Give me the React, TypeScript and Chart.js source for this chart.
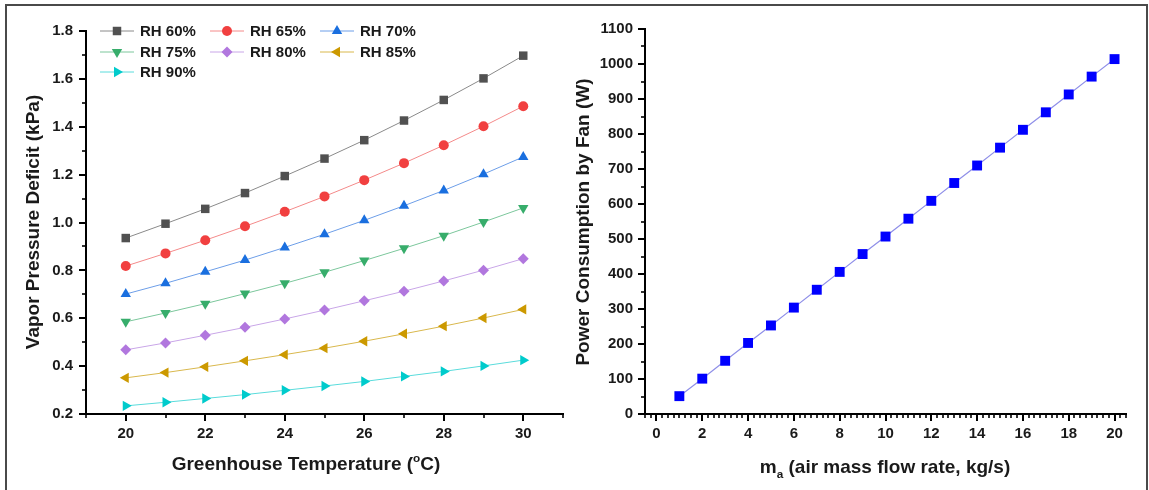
import React, { useEffect, useRef } from 'react';
import { Chart, registerables } from 'chart.js';
import { drawPoint } from 'chart.js/helpers';

Chart.register(...registerables);

// ---------------- data ----------------
const temperatures = [20, 21, 22, 23, 24, 25, 26, 27, 28, 29, 30];
const rh60 = [0.935, 0.995, 1.057, 1.123, 1.194, 1.267, 1.344, 1.426, 1.512, 1.602, 1.697];
const rh65 = [0.818, 0.871, 0.926, 0.984, 1.045, 1.109, 1.177, 1.248, 1.323, 1.402, 1.486];
const rh70 = [0.701, 0.746, 0.794, 0.843, 0.896, 0.951, 1.009, 1.07, 1.134, 1.202, 1.274];
const rh75 = [0.585, 0.622, 0.661, 0.703, 0.746, 0.792, 0.841, 0.892, 0.945, 1.002, 1.061];
const rh80 = [0.468, 0.497, 0.529, 0.562, 0.597, 0.634, 0.673, 0.713, 0.756, 0.801, 0.849];
const rh85 = [0.351, 0.373, 0.397, 0.422, 0.448, 0.475, 0.504, 0.535, 0.567, 0.601, 0.637];
const rh90 = [0.234, 0.249, 0.265, 0.281, 0.299, 0.317, 0.336, 0.357, 0.378, 0.401, 0.425];

const seriesLabels = ['RH 60%', 'RH 65%', 'RH 70%', 'RH 75%', 'RH 80%', 'RH 85%', 'RH 90%'];
const seriesValues = [rh60, rh65, rh70, rh75, rh80, rh85, rh90];

const flowRates = [1, 2, 3, 4, 5, 6, 7, 8, 9, 10, 11, 12, 13, 14, 15, 16, 17, 18, 19, 20];
const fanPower = [51, 101, 152, 203, 253, 304, 355, 406, 457, 507, 558, 609, 660, 710, 761, 812, 862, 913, 964, 1014];

// tick labels
const leftXTicks = [20, 22, 24, 26, 28, 30];
const leftYTicks = [0.2, 0.4, 0.6, 0.8, 1.0, 1.2, 1.4, 1.6, 1.8];
const leftXMinor = [19, 21, 23, 25, 27, 29, 31];
const leftYMinor = [0.3, 0.5, 0.7, 0.9, 1.1, 1.3, 1.5, 1.7];
const rightXTicks = [0, 2, 4, 6, 8, 10, 12, 14, 16, 18, 20];
const rightYTicks = [0, 100, 200, 300, 400, 500, 600, 700, 800, 900, 1000, 1100];
const rightYMinor = [50, 150, 250, 350, 450, 550, 650, 750, 850, 950, 1050];
const rightXMinor: number[] = [];
for (let v = -0.5; v <= 20.5001; v += 0.25) {
  if (Math.abs(v / 2 - Math.round(v / 2)) > 1e-6) rightXMinor.push(v);
}

// ---------------- styles ----------------
const FONT = '"Liberation Sans", Arial, Helvetica, sans-serif';
const TEXT = '#1a1a1a';
const markerColors = ['#515151', '#F14040', '#1A6FDF', '#37AD6B', '#B177DE', '#CC9900', '#00CBCC'];
const lineColors = ['#8a8a8a', '#f48a8a', '#6d9ee8', '#7cc79c', '#c9a6e8', '#d9b84d', '#5adcdc'];
const pointStyles = ['rect', 'circle', 'triangle', 'triangle', 'rectRot', 'triangle', 'triangle'];
const pointRotations = [0, 0, 0, 180, 0, -90, 90];
const pointRadii = [6, 5, 6, 6, 5.5, 6, 6];

const H = 490;

type Part = { t: string; scale?: number; dy?: number };

function drawRich(ctx: CanvasRenderingContext2D, parts: Part[], size: number) {
  // draws centered at (0,0)
  let total = 0;
  const widths = parts.map((p) => {
    ctx.font = `bold ${size * (p.scale || 1)}px ${FONT}`;
    const w = ctx.measureText(p.t).width;
    total += w;
    return w;
  });
  let x = -total / 2;
  ctx.textBaseline = 'alphabetic';
  ctx.textAlign = 'left';
  parts.forEach((p, i) => {
    ctx.font = `bold ${size * (p.scale || 1)}px ${FONT}`;
    ctx.fillText(p.t, x, size * 0.36 + (p.dy || 0) * size);
    x += widths[i];
  });
}

function makeDecorPlugin(cfg: {
  xMajor: number[];
  xMinor: number[];
  yMajor: number[];
  yMinor: number[];
  xTitle: Part[];
  xTitlePos: [number, number];
  yTitle: Part[];
  yTitlePos: [number, number];
  legend?: boolean;
}) {
  return {
    id: 'decor',
    afterDraw(chart: any) {
      const ctx: CanvasRenderingContext2D = chart.ctx;
      const { left, bottom } = chart.chartArea;
      const xs = chart.scales.x;
      const ys = chart.scales.y;
      ctx.save();
      ctx.strokeStyle = '#000';
      const xt = (v: number, len: number, w: number) => {
        const p = Math.round(xs.getPixelForValue(v));
        ctx.lineWidth = w;
        ctx.beginPath();
        ctx.moveTo(p, bottom);
        ctx.lineTo(p, bottom + 1 + len);
        ctx.stroke();
      };
      const yt = (v: number, len: number, w: number) => {
        const p = Math.round(ys.getPixelForValue(v));
        ctx.lineWidth = w;
        ctx.beginPath();
        ctx.moveTo(left, p);
        ctx.lineTo(left - 1 - len, p);
        ctx.stroke();
      };
      cfg.xMajor.forEach((v) => xt(v, 6, 2));
      cfg.xMinor.forEach((v) => xt(v, 3, 1.6));
      cfg.yMajor.forEach((v) => yt(v, 6, 2));
      cfg.yMinor.forEach((v) => yt(v, 3, 1.6));

      // axis titles
      ctx.fillStyle = TEXT;
      ctx.save();
      ctx.translate(cfg.xTitlePos[0], cfg.xTitlePos[1]);
      drawRich(ctx, cfg.xTitle, 19);
      ctx.restore();
      ctx.save();
      ctx.translate(cfg.yTitlePos[0], cfg.yTitlePos[1]);
      ctx.rotate(-Math.PI / 2);
      drawRich(ctx, cfg.yTitle, 19);
      ctx.restore();

      if (cfg.legend) {
        const colStart = [100, 210, 320];
        const rowY = [31, 52, 72];
        chart.data.datasets.forEach((ds: any, i: number) => {
          const c = i % 3;
          const r = Math.floor(i / 3);
          const x0 = colStart[c];
          const y0 = rowY[r];
          ctx.strokeStyle = ds.borderColor;
          ctx.lineWidth = 1;
          ctx.beginPath();
          ctx.moveTo(x0, y0);
          ctx.lineTo(x0 + 34, y0);
          ctx.stroke();
          ctx.fillStyle = ds.pointBackgroundColor;
          ctx.strokeStyle = ds.pointBackgroundColor;
          drawPoint(
            ctx,
            { pointStyle: ds.pointStyle, rotation: ds.pointRotation, radius: ds.pointRadius, borderWidth: 0 } as any,
            x0 + 17,
            y0
          );
          ctx.fillStyle = TEXT;
          ctx.font = `bold 15px ${FONT}`;
          ctx.textAlign = 'left';
          ctx.textBaseline = 'middle';
          ctx.fillText(ds.label, x0 + 40, y0 + 1);
        });
      }
      ctx.restore();
    },
  };
}

function baseScale(min: number, max: number, ticks: number[], fmt: (v: number) => string, padding: number) {
  return {
    type: 'linear',
    min,
    max,
    grid: { display: false, drawTicks: false },
    border: { display: true, color: '#000', width: 2 },
    afterBuildTicks: (s: any) => {
      s.ticks = ticks.map((v) => ({ value: v }));
    },
    ticks: {
      autoSkip: false,
      maxRotation: 0,
      padding,
      color: TEXT,
      font: { family: FONT, size: 15, weight: 'bold' },
      callback: (v: any) => fmt(Number(v)),
    },
  };
}

const LeftChart: React.FC = () => {
  const ref = useRef<HTMLCanvasElement>(null);
  useEffect(() => {
    if (!ref.current) return;
    const datasets = seriesValues.map((vals, i) => ({
      label: seriesLabels[i],
      data: temperatures.map((t, j) => ({ x: t, y: vals[j] })),
      borderColor: lineColors[i],
      borderWidth: 1,
      pointBackgroundColor: markerColors[i],
      pointBorderColor: markerColors[i],
      pointBorderWidth: 0,
      pointStyle: pointStyles[i],
      pointRotation: pointRotations[i],
      pointRadius: pointRadii[i],
      tension: 0,
    }));
    const xScale: any = baseScale(19, 31, leftXTicks, (v) => String(v), 11);
    xScale.afterFit = (s: any) => {
      s.height = H - 414;
    };
    const yScale: any = baseScale(0.2, 1.8, leftYTicks, (v) => v.toFixed(1), 13);
    yScale.afterFit = (s: any) => {
      s.width = 86;
    };
    const chart = new Chart(ref.current, {
      type: 'line',
      data: { datasets },
      options: {
        animation: false,
        responsive: false,
        maintainAspectRatio: false,
        layout: { padding: { left: 0, top: 31, right: 12, bottom: 0 } },
        plugins: { legend: { display: false }, tooltip: { enabled: false } },
        scales: { x: xScale, y: yScale },
      } as any,
      plugins: [
        makeDecorPlugin({
          xMajor: leftXTicks,
          xMinor: leftXMinor,
          yMajor: leftYTicks,
          yMinor: leftYMinor,
          xTitle: [
            { t: 'Greenhouse Temperature (' },
            { t: 'o', scale: 0.62, dy: -0.42 },
            { t: 'C)' },
          ],
          xTitlePos: [306, 463],
          yTitle: [{ t: 'Vapor Pressure Deficit (kPa)' }],
          yTitlePos: [32, 222],
          legend: true,
        }) as any,
      ],
    });
    return () => chart.destroy();
  }, []);
  return (
    <canvas
      ref={ref}
      width={575}
      height={H}
      style={{ position: 'absolute', left: 0, top: 0, width: 575, height: H }}
    />
  );
};

const RightChart: React.FC = () => {
  const ref = useRef<HTMLCanvasElement>(null);
  useEffect(() => {
    if (!ref.current) return;
    const xScale: any = baseScale(-0.5, 20.5, rightXTicks, (v) => String(v), 11);
    xScale.afterFit = (s: any) => {
      s.height = H - 414;
    };
    const yScale: any = baseScale(0, 1100, rightYTicks, (v) => String(v), 12);
    yScale.afterFit = (s: any) => {
      s.width = 85;
    };
    const chart = new Chart(ref.current, {
      type: 'line',
      data: {
        datasets: [
          {
            label: 'Power',
            data: flowRates.map((m, j) => ({ x: m, y: fanPower[j] })),
            borderColor: '#8f8fe8',
            borderWidth: 1.2,
            pointBackgroundColor: '#0000FF',
            pointBorderColor: '#0000FF',
            pointBorderWidth: 0,
            pointStyle: 'rect',
            pointRadius: 7,
            tension: 0,
          },
        ],
      },
      options: {
        animation: false,
        responsive: false,
        maintainAspectRatio: false,
        layout: { padding: { left: 0, top: 29, right: 23, bottom: 0 } },
        plugins: { legend: { display: false }, tooltip: { enabled: false } },
        scales: { x: xScale, y: yScale },
      } as any,
      plugins: [
        makeDecorPlugin({
          xMajor: rightXTicks,
          xMinor: rightXMinor,
          yMajor: rightYTicks,
          yMinor: rightYMinor,
          xTitle: [{ t: 'm' }, { t: 'a', scale: 0.62, dy: 0.25 }, { t: ' (air mass flow rate, kg/s)' }],
          xTitlePos: [325, 466],
          yTitle: [{ t: 'Power Consumption by Fan (W)' }],
          yTitlePos: [22, 222],
        }) as any,
      ],
    });
    return () => chart.destroy();
  }, []);
  return (
    <canvas
      ref={ref}
      width={589}
      height={H}
      style={{ position: 'absolute', left: 560, top: 0, width: 589, height: H }}
    />
  );
};

export default function App() {
  return (
    <div
      style={{
        position: 'absolute',
        left: 0,
        top: 0,
        width: 1149,
        height: H,
        background: '#fff',
        overflow: 'hidden',
      }}
    >
      <div
        style={{
          position: 'absolute',
          left: 5,
          top: 4,
          width: 1139,
          height: 500,
          borderTop: '2px solid #4a4a4a',
          borderLeft: '2px solid #4a4a4a',
          borderRight: '2px solid #4a4a4a',
        }}
      />
      <LeftChart />
      <RightChart />
    </div>
  );
}
